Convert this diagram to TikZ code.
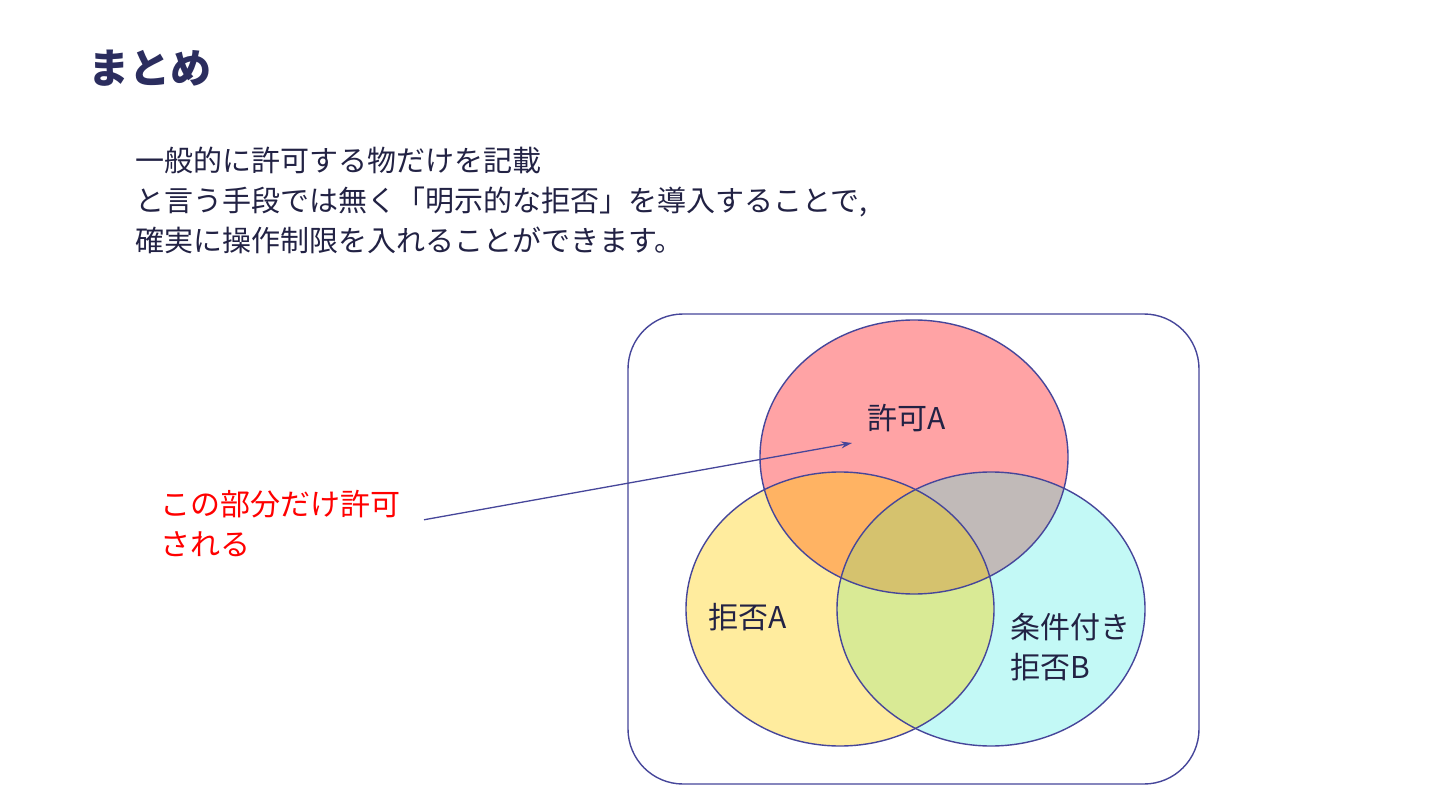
\documentclass[tikz,border=0pt]{standalone}
\usepackage{fontspec}
\setmainfont{Noto Sans CJK JP}
\usepackage{xcolor}
\usetikzlibrary{arrows.meta,positioning}
\definecolor{navyx}{HTML}{2B2D5E}
\definecolor{inkx}{HTML}{222244}
\definecolor{linex}{HTML}{46469A}
\definecolor{redx}{HTML}{FF0000}
\definecolor{redfill}{HTML}{FFA3A5}
\definecolor{yelfill}{HTML}{FFEC9E}
\definecolor{cyanfill}{HTML}{C3F9F6}
\definecolor{ryfill}{HTML}{FFB363}
\definecolor{rcfill}{HTML}{C1BAB8}
\definecolor{ycfill}{HTML}{D9EA95}
\definecolor{allfill}{HTML}{D5C26E}
\tikzset{
  ar/.style={-{Stealth[length=11pt,width=7pt]},line width=1.3pt,linex},
  lbl/.style={font=\fontsize{30}{40}\selectfont,text=inkx,align=left,inner sep=0pt},
  rim/.style={draw=linex,line width=1.4pt}
}
\newcommand{\allowA}{(914,457) ellipse [x radius=154pt,y radius=137pt]}
\newcommand{\denyA}{(840,609) ellipse [x radius=154pt,y radius=137pt]}
\newcommand{\denyB}{(991,609) ellipse [x radius=154pt,y radius=137pt]}

\begin{document}
\begin{tikzpicture}[x=1pt,y=-1pt]
\fill[white] (0,0) rectangle (1440,810);
\useasboundingbox (0,0) rectangle (1440,810);
% title and text
\node[anchor=west,inner sep=0pt,font=\fontsize{41}{48}\selectfont\bfseries,text=navyx] (title) at (88,68) {まとめ};
\node[lbl,anchor=west,font=\fontsize{29}{40}\selectfont] (body) at (135,200) {一般的に許可する物だけを記載\\と言う手段では無く「明示的な拒否」を導入することで,\\確実に操作制限を入れることができます。};
% sets
\draw[rim,rounded corners=55pt] (628,314) rectangle (1199,784);
\fill[redfill] \allowA;
\fill[yelfill] \denyA;
\fill[cyanfill] \denyB;
\begin{scope}\clip \allowA; \fill[ryfill] \denyA; \fill[rcfill] \denyB; \end{scope}
\begin{scope}\clip \denyA; \fill[ycfill] \denyB; \end{scope}
\begin{scope}\clip \allowA; \clip \denyA; \fill[allfill] \denyB; \end{scope}
\draw[rim] \allowA; \draw[rim] \denyA; \draw[rim] \denyB;
\node[lbl] (allow) at (907,418) {許可A};
\node[lbl] (deny) at (748,617) {拒否A};
\node[lbl,anchor=west] (cond) at (1010,647) {条件付き\\拒否B};
% note
\node[lbl,anchor=west,text=redx] (note) at (160,524) {この部分だけ許可\\される};
\coordinate (spot) at (852,443);
\draw[ar,shorten <=24pt] (note.east) -- (spot);
\end{tikzpicture}
\end{document}
